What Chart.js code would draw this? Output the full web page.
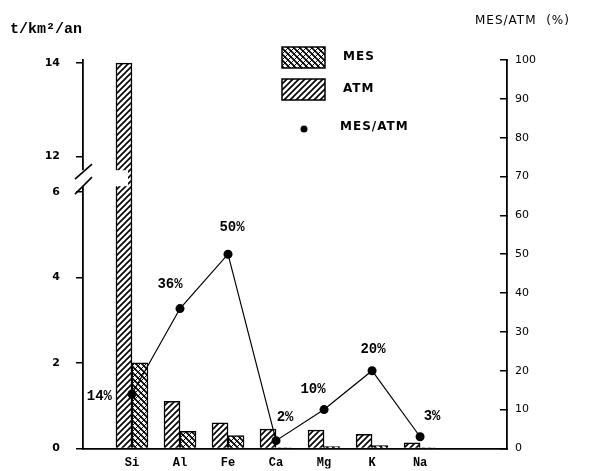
<!DOCTYPE html>
<html>
<head>
<meta charset="utf-8">
<script src="https://cdn.jsdelivr.net/npm/chart.js@4.4.1/dist/chart.umd.min.js"></script>
<style>
  html, body { margin: 0; padding: 0; background: #fff; }
  canvas { display: block; }
</style>
</head>
<body>
<canvas id="chart" width="595" height="471"></canvas>
<script>
// Flux en t/km²/an (axe gauche, coupé entre 6 et 12) et rapport MES/ATM en %
const elements   = ['Si', 'Al', 'Fe', 'Ca', 'Mg', 'K', 'Na'];
const atm        = [14, 1.1, 0.6, 0.45, 0.43, 0.33, 0.13];
const mes        = [2, 0.4, 0.3, 0.01, 0.045, 0.065, 0.004];
const rapport    = [14, 36, 50, 2, 10, 20, 3];
const leftTicks  = [0, 2, 4, 6, 12, 14];
const rightTicks = [0, 10, 20, 30, 40, 50, 60, 70, 80, 90, 100];

// valeur -> fraction de la hauteur de l'axe (coupure entre 6 et 12)
const BREAK_MAP = [[0, 0], [6, 0.66], [12, 0.752], [14, 0.992]];

// décalage des étiquettes % par rapport aux points
const labelOffsets = [[-20, 2, 'right'], [-10, -24], [4, -27], [9, -23], [-11, -20], [1, -21], [12, -20]];

const FONT_MONO = '"Liberation Mono", monospace';
const FONT_SANS = '"DejaVu Sans", sans-serif';

class BrokenScale extends Chart.LinearScale {
    static id = 'broken';

    buildTicks() {
        return leftTicks.map(value => ({ value }));
    }

    getPixelForValue(value) {
        if (value === null || isNaN(value)) return NaN;
        let i = 1;
        while (i < BREAK_MAP.length - 1 && value > BREAK_MAP[i][0]) i++;
        const [v0, d0] = BREAK_MAP[i - 1];
        const [v1, d1] = BREAK_MAP[i];
        return this.getPixelForDecimal(d0 + (value - v0) / (v1 - v0) * (d1 - d0));
    }
}
Chart.register(BrokenScale);

function hatch(cross) {
    const s = 6;
    const c = document.createElement('canvas');
    c.width = c.height = s;
    const g = c.getContext('2d');
    g.fillStyle = '#fff';
    g.fillRect(0, 0, s, s);
    g.strokeStyle = '#000';
    g.lineWidth = cross ? 1 : 1.6;
    g.beginPath();
    g.moveTo(0, s); g.lineTo(s, 0);
    g.moveTo(-1, 1); g.lineTo(1, -1);
    g.moveTo(s - 1, s + 1); g.lineTo(s + 1, s - 1);
    g.stroke();
    if (cross) {
        g.lineWidth = 1.6;
        g.beginPath();
        g.moveTo(0, 0); g.lineTo(s, s);
        g.moveTo(-1, s - 1); g.lineTo(1, s + 1);
        g.moveTo(s - 1, -1); g.lineTo(s + 1, 1);
        g.stroke();
    }
    return g.createPattern(c, 'repeat');
}

const xy = arr => arr.map((y, x) => ({ x, y }));

// titres d'axes en haut
const axisTitles = {
    id: 'axisTitles',
    afterDraw(chart) {
        const ctx = chart.ctx;
        ctx.save();
        ctx.fillStyle = '#000';
        ctx.textBaseline = 'alphabetic';
        ctx.font = 'bold 15px ' + FONT_MONO;
        ctx.fillText('t/km²/an', 10, 33);
        ctx.font = '12px ' + FONT_SANS;
        ctx.letterSpacing = '1px';
        ctx.textBaseline = 'middle';
        ctx.fillText('MES/ATM  (%)', 475, 21);
        ctx.restore();
    },
};

// coupure de l'axe gauche
const axisBreak = {
    id: 'axisBreak',
    afterDraw(chart) {
        const y = chart.scales.y;
        const ctx = chart.ctx;
        const ax = chart.chartArea.left;
        const mid = (y.getPixelForValue(6) + y.getPixelForValue(12)) / 2;
        const bar = chart.getDatasetMeta(1).data[0];
        ctx.save();
        ctx.fillStyle = '#fff';
        ctx.fillRect(ax - 12, mid - 4, bar.x - ax + 16, 16);
        ctx.strokeStyle = '#000';
        ctx.lineWidth = 1.6;
        ctx.beginPath();
        ctx.moveTo(ax - 8, mid + 5);  ctx.lineTo(ax + 9, mid - 10);
        ctx.moveTo(ax - 8, mid + 20); ctx.lineTo(ax + 9, mid + 3);
        ctx.stroke();
        ctx.restore();
    },
};

// étiquettes des pourcentages
const pointLabels = {
    id: 'pointLabels',
    afterDatasetsDraw(chart) {
        const ctx = chart.ctx;
        ctx.save();
        ctx.font = 'bold 14px ' + FONT_MONO;
        ctx.fillStyle = '#000';
        ctx.textBaseline = 'middle';
        chart.getDatasetMeta(0).data.forEach((pt, i) => {
            const [dx, dy, align] = labelOffsets[i];
            ctx.textAlign = align || 'center';
            ctx.fillText(rapport[i] + '%', pt.x + dx, pt.y + dy);
        });
        ctx.restore();
    },
};

// légende dans la zone du graphique
const boxLegend = {
    id: 'boxLegend',
    afterDraw(chart) {
        const ctx = chart.ctx;
        const ds = chart.data.datasets;
        const x0 = 282, y0 = 47;
        ctx.save();
        ctx.strokeStyle = '#000';
        ctx.lineWidth = 1.5;
        [ds[2], ds[1]].forEach((d, i) => {
            const top = y0 + i * 32;
            ctx.fillStyle = d.backgroundColor;
            ctx.fillRect(x0, top, 43, 21);
            ctx.strokeRect(x0, top, 43, 21);
        });
        ctx.fillStyle = '#000';
        ctx.beginPath();
        ctx.arc(x0 + 22, y0 + 82, 3.5, 0, Math.PI * 2);
        ctx.fill();
        ctx.font = 'bold 12px ' + FONT_SANS;
        ctx.letterSpacing = '1px';
        ctx.textBaseline = 'middle';
        ctx.fillText(ds[2].label, x0 + 61, y0 + 10);
        ctx.fillText(ds[1].label, x0 + 61, y0 + 42);
        ctx.fillText(ds[0].label, x0 + 58, y0 + 80);
        ctx.restore();
    },
};

const axisLine = { color: '#000', width: 1.8 };
const tickGrid = { drawOnChartArea: false, color: '#000', lineWidth: 1.5 };

new Chart(document.getElementById('chart'), {
    type: 'bar',
    data: {
        datasets: [
            {
                type: 'line', label: 'MES/ATM', data: xy(rapport), yAxisID: 'yR', order: 0,
                borderColor: '#000', borderWidth: 1.2,
                pointRadius: 4.5, pointBackgroundColor: '#000', pointBorderWidth: 0,
            },
            {
                label: 'ATM', data: xy(atm), yAxisID: 'y', order: 1,
                backgroundColor: hatch(false), borderColor: '#000', borderWidth: 1.5, barThickness: 16,
            },
            {
                label: 'MES', data: xy(mes), yAxisID: 'y', order: 1,
                backgroundColor: hatch(true), borderColor: '#000', borderWidth: 1.5, barThickness: 16,
            },
        ],
    },
    options: {
        responsive: false,
        animation: false,
        events: [],
        devicePixelRatio: 1,
        layout: { padding: { top: 60, right: 0, bottom: 0, left: 0 } },
        plugins: { legend: { display: false }, tooltip: { enabled: false } },
        scales: {
            x: {
                type: 'linear', min: -1.02, max: 7.81, offset: false,
                afterBuildTicks: s => { s.ticks = elements.map((_, i) => ({ value: i })); },
                afterFit: s => { s.height = 20; },
                grid: { display: false, drawTicks: false, offset: false },
                border: axisLine,
                ticks: {
                    autoSkip: false, maxRotation: 0, padding: 7, color: '#000',
                    font: { family: FONT_MONO, weight: 'bold', size: 12 },
                    callback: v => elements[v],
                },
            },
            y: {
                type: 'broken', position: 'left', min: 0, max: 14,
                afterFit: s => { s.width = 83; },
                grid: { ...tickGrid, tickLength: 7 },
                border: axisLine,
                ticks: {
                    autoSkip: false, padding: 16, color: '#000',
                    font: { family: FONT_SANS, weight: 'bold', size: 11 },
                    callback: v => String(v),
                },
            },
            yR: {
                position: 'right', min: 0, max: 100,
                afterBuildTicks: s => { s.ticks = rightTicks.map(value => ({ value })); },
                afterFit: s => { s.width = 88; },
                grid: { ...tickGrid, tickLength: -7 },
                border: axisLine,
                ticks: {
                    autoSkip: false, padding: 15, color: '#000',
                    font: { family: FONT_SANS, size: 11 },
                },
            },
        },
    },
    plugins: [pointLabels, axisBreak, boxLegend, axisTitles],
});
</script>
</body>
</html>
